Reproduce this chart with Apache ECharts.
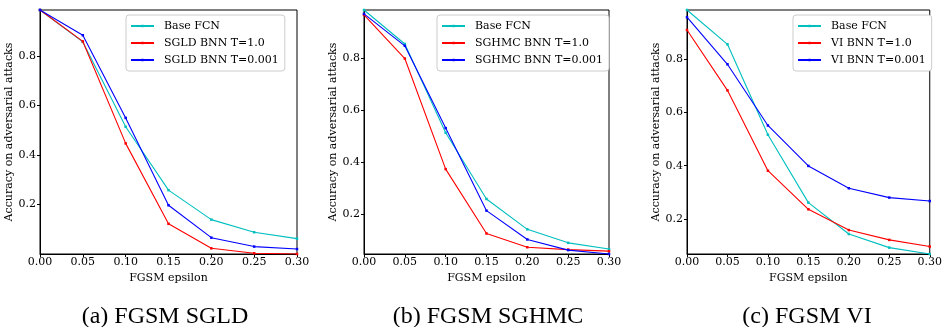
<!DOCTYPE html>
<html><head><meta charset="utf-8">
<script src="https://cdn.jsdelivr.net/npm/echarts@6/dist/echarts.min.js"></script>
<style>html,body{margin:0;padding:0;background:#fff}#c{width:945px;height:327px}</style>
</head><body><div id="c"></div>
<script>
const epsilons = [0, 0.05, 0.10, 0.15, 0.20, 0.25, 0.30];
const xTicks = [0, 0.05, 0.10, 0.15, 0.20, 0.25, 0.30];
const yTicks = [0.2, 0.4, 0.6, 0.8];

const baseFCN_SGLD   = [0.986, 0.857, 0.514, 0.258, 0.139, 0.088, 0.062];
const sgldT1         = [0.986, 0.859, 0.447, 0.122, 0.023, 0.003, 0.000];
const sgldT0001      = [0.986, 0.884, 0.550, 0.197, 0.066, 0.030, 0.020];

const baseFCN_SGHMC  = [0.986, 0.855, 0.513, 0.258, 0.141, 0.089, 0.065];
const sghmcT1        = [0.967, 0.799, 0.373, 0.125, 0.072, 0.063, 0.057];
const sghmcT0001     = [0.971, 0.848, 0.531, 0.213, 0.102, 0.061, 0.046];

const baseFCN_VI     = [0.985, 0.856, 0.516, 0.261, 0.143, 0.092, 0.068];
const viT1           = [0.910, 0.683, 0.381, 0.236, 0.158, 0.121, 0.096];
const viT0001        = [0.958, 0.781, 0.551, 0.399, 0.315, 0.280, 0.267];

const captions = ['(a) FGSM SGLD', '(b) FGSM SGHMC', '(c) FGSM VI'];
const panels = [
  {names: ['Base FCN', 'SGLD BNN T=1.0', 'SGLD BNN T=0.001'], data: [baseFCN_SGLD, sgldT1, sgldT0001]},
  {names: ['Base FCN ', 'SGHMC BNN T=1.0', 'SGHMC BNN T=0.001'], data: [baseFCN_SGHMC, sghmcT1, sghmcT0001]},
  {names: ['Base FCN  ', 'VI BNN T=1.0', 'VI BNN T=0.001'], data: [baseFCN_VI, viT1, viT0001]}
];
const colors = ['#00bfbf', '#ff0000', '#0000ff'];

const gridPos = [
  {left: 40, width: 257},
  {left: 364, width: 245},
  {left: 687, width: 246}
];
const legendPos = [126, 437, 793];
const captionX = [160, 483, 802];

const serif = 'DejaVu Serif';
const grids = [], xAxes = [], yAxes = [], series = [], legends = [], titles = [];
panels.forEach((p, i) => {
  grids.push({left: gridPos[i].left, width: gridPos[i].width, top: 10, height: 244,
    show: true, borderColor: '#000', borderWidth: 1, backgroundColor: 'transparent'});
  xAxes.push({type: 'value', gridIndex: i, min: 0, max: 0.3, interval: 0.05,
    name: 'FGSM epsilon', nameLocation: 'middle', nameGap: 14,
    nameTextStyle: {fontFamily: serif, fontSize: 11, color: '#000'},
    axisLine: {lineStyle: {color: '#000', width: 1}},
    axisTick: {show: true, length: 3, lineStyle: {color: '#000'}, customValues: xTicks},
    axisLabel: {fontFamily: serif, fontSize: 11, color: '#000', margin: 3,
      customValues: xTicks, formatter: v => v.toFixed(2)},
    splitLine: {show: false}});
  yAxes.push({type: 'value', gridIndex: i, min: 'dataMin', max: 'dataMax',
    name: 'Accuracy on adversarial attacks', nameLocation: 'middle', nameGap: 22, nameRotate: 90,
    nameTextStyle: {fontFamily: serif, fontSize: 11, color: '#000'},
    axisLine: {show: true, lineStyle: {color: '#000', width: 1}},
    axisTick: {show: true, length: 3, lineStyle: {color: '#000'}, customValues: yTicks},
    axisLabel: {fontFamily: serif, fontSize: 11, color: '#000', margin: 4,
      customValues: yTicks, formatter: v => v.toFixed(1)},
    splitLine: {show: false}});
  p.names.forEach((n, k) => {
    series.push({type: 'line', name: n, xAxisIndex: i, yAxisIndex: i,
      data: epsilons.map((e, j) => [e, p.data[k][j]]),
      color: colors[k], symbol: 'rect', symbolSize: 2.5, showSymbol: true,
      lineStyle: {width: 1.1, color: colors[k]}, itemStyle: {color: colors[k]},
      animation: false, silent: true, z: 2 + k});
  });
  legends.push({data: p.names, orient: 'vertical', left: legendPos[i], top: 15,
    padding: [4, 6, 4, 4], itemGap: 3, itemWidth: 23, itemHeight: 3,
    borderColor: '#cccccc', borderWidth: 1, borderRadius: 3, backgroundColor: '#fff',
    selectedMode: false,
    textStyle: {fontFamily: serif, fontSize: 11, color: '#000', padding: [0, 0, 0, 5], lineHeight: 14}});
  titles.push({text: captions[i], left: captionX[i], top: 300, textAlign: 'center',
    textStyle: {fontFamily: 'Liberation Serif', fontSize: 24, fontWeight: 'normal', color: '#000'}});
});

const chart = echarts.init(document.getElementById('c'), null, {renderer: 'canvas'});
chart.setOption({animation: false, backgroundColor: '#fff', title: titles, grid: grids,
  xAxis: xAxes, yAxis: yAxes, legend: legends, series: series});
</script></body></html>
